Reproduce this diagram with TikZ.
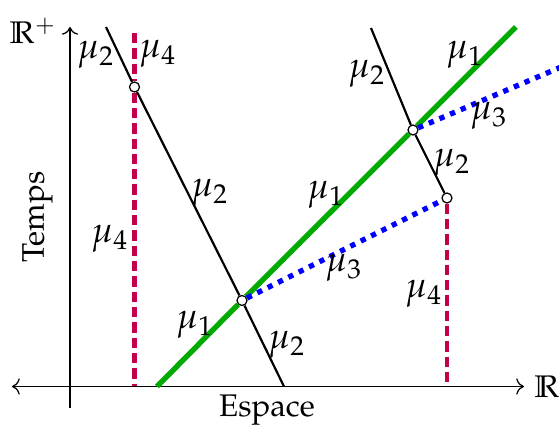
\documentclass[tikz,border=0pt]{standalone}
\usepackage[T1]{fontenc}
\usepackage{mathpazo}
\usepackage{amssymb}
\usetikzlibrary{arrows.meta}
\definecolor{rouge}{RGB}{196,0,76}
\definecolor{vert}{RGB}{0,170,0}
\newcommand{\Rb}{\mathbb{R}}

\begin{document}
\begin{tikzpicture}[x=0.32pt, y=-0.32pt,
  axe/.style={thin},
  onde/.style={line width=0.7pt},
  choc/.style={line width=1.7pt, draw=vert},
  detente/.style={line width=1.7pt, draw=blue, dotted},
  contact/.style={line width=1.3pt, draw=rouge, dash pattern=on 3.3pt off 1.6pt},
  pt/.style={circle, draw, fill=white, thin, inner sep=0pt, minimum size=3.2pt},
  lab/.style={inner sep=0pt, font=\fontsize{11.5}{14}\selectfont}]
  \useasboundingbox (0,0) rectangle (559,428);
  % axes
  \coordinate (xg) at (12,386.5);
  \coordinate (xd) at (524,386.5);
  \coordinate (yb) at (70,408);
  \coordinate (yh) at (70,27);
  \draw[axe, <->] (xg) -- (xd);
  \draw[axe, ->] (yb) -- (yh);
  \node (R) at (547,387) {$\Rb$};
  \node (Rp) at (33,31) {$\Rb^+$};
  \node[rotate=90] (temps) at (37.5,217) {Temps};
  \node (espace) at (267,410) {Espace};
  % points d'interaction
  \node[pt] (A) at (134.5,87) {};
  \node[pt] (B) at (242,300.5) {};
  \node[pt] (C) at (413,130) {};
  \node[pt] (D) at (447,198) {};
  \coordinate (n1h) at (106,27);
  \coordinate (n1b) at (284,386.5);
  \coordinate (n2h) at (371,28);
  \coordinate (r1h) at (134.5,33);
  \coordinate (r1b) at (134.5,386.5);
  \coordinate (r2b) at (447,386.5);
  \coordinate (g1) at (157,386.5);
  \coordinate (g2) at (516,27);
  \coordinate (b2) at (580,59);
  % ondes
  \draw[contact] (r1h) -- (A) -- (r1b);
  \draw[contact] (D) -- (r2b);
  \draw[choc] (g1) -- (B) -- (C) -- (g2);
  \draw[detente] (B) -- (D);
  \draw[detente] (C) -- (b2);
  \draw[onde] (n1h) -- (A) -- (B) -- (n1b);
  \draw[onde] (n2h) -- (C) -- (D);
  % etiquettes
  \node[lab] (l1) at (96,55) {$\mu_2$};
  \node[lab] (l2) at (158,54) {$\mu_4$};
  \node[lab] (l3) at (210,193) {$\mu_2$};
  \node[lab] (l4) at (110,239) {$\mu_4$};
  \node[lab] (l5) at (195,325) {$\mu_1$};
  \node[lab] (l6) at (287,345) {$\mu_2$};
  \node[lab] (l7) at (326,195) {$\mu_1$};
  \node[lab] (l8) at (344,268) {$\mu_3$};
  \node[lab] (l9) at (424,294) {$\mu_4$};
  \node[lab] (l10) at (367,74) {$\mu_2$};
  \node[lab] (l11) at (465,55) {$\mu_1$};
  \node[lab] (l12) at (489,116) {$\mu_3$};
  \node[lab] (l13) at (452,163) {$\mu_2$};
\end{tikzpicture}
\end{document}
